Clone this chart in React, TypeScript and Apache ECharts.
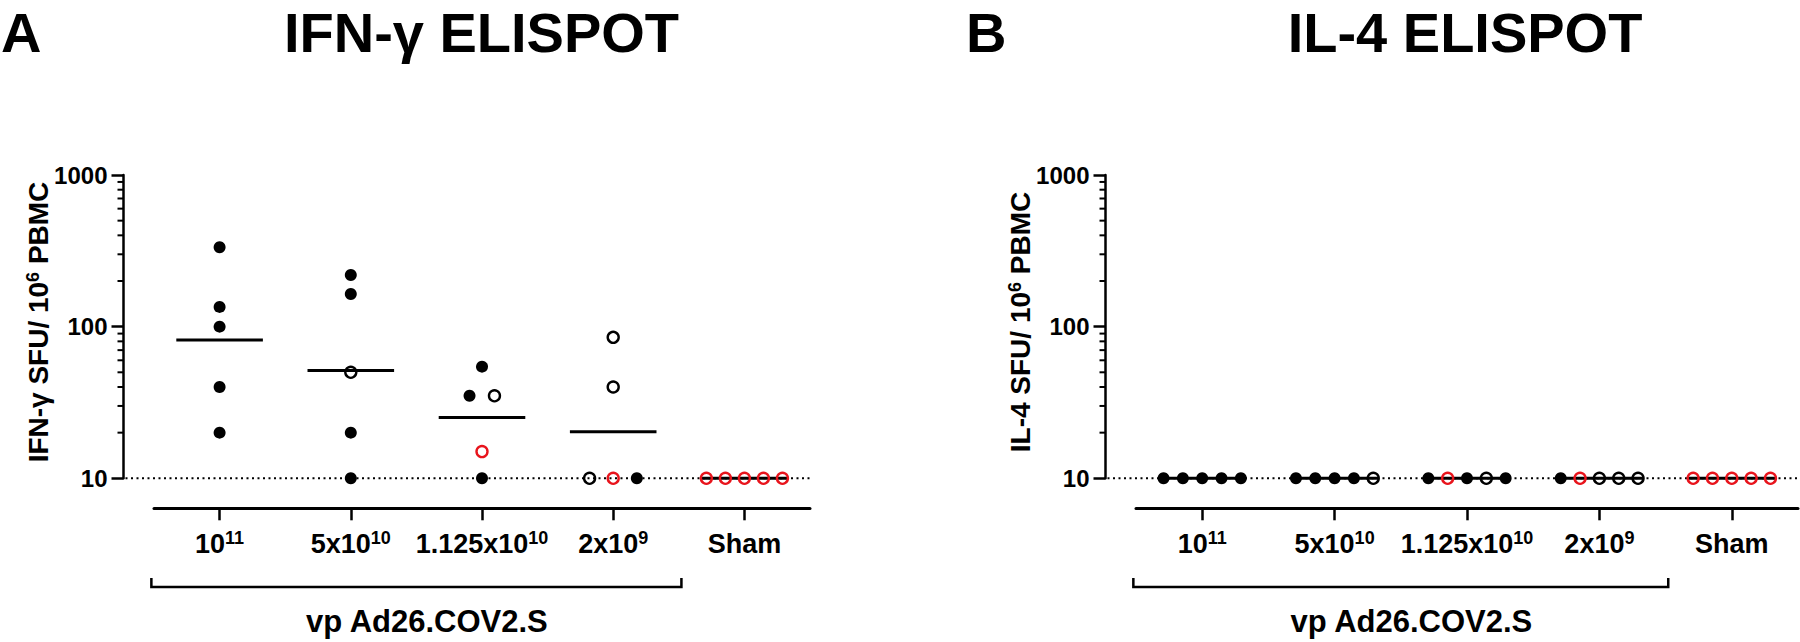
import React, { useEffect, useRef } from "react";
import * as echarts from "echarts";

// ---------------- data ----------------
const categories = ["10{s|11}", "5x10{s|10}", "1.125x10{s|10}", "2x10{s|9}", "Sham"];
const groupLabel = "vp Ad26.COV2.S";
const minorTickValues = [20, 30, 40, 50, 60, 70, 80, 90, 200, 300, 400, 500, 600, 700, 800, 900];

// IFN-gamma ELISPOT (SFU / 10^6 PBMC); f = filled black, o = open black, r = open red
const ifnValues = [
  [334, 135, 100, 40, 20],
  [219, 164, 50, 20, 10],
  [54.5, 35, 35, 15, 10],
  [85, 40, 10, 10, 10],
  [10, 10, 10, 10, 10],
];
const ifnKinds = [
  ["f", "f", "f", "f", "f"],
  ["f", "f", "o", "f", "f"],
  ["f", "f", "o", "r", "f"],
  ["o", "o", "o", "r", "f"],
  ["r", "r", "r", "r", "r"],
];

// IL-4 ELISPOT
const il4Values = [
  [10, 10, 10, 10, 10],
  [10, 10, 10, 10, 10],
  [10, 10, 10, 10, 10],
  [10, 10, 10, 10, 10],
  [10, 10, 10, 10, 10],
];
const il4Kinds = [
  ["f", "f", "f", "f", "f"],
  ["f", "f", "f", "f", "o"],
  ["f", "r", "f", "o", "f"],
  ["f", "r", "o", "o", "o"],
  ["r", "r", "r", "r", "r"],
];

// horizontal spread of tied values (category units)
const tieSpacingA = [0.18, 0.18, 0.19, 0.18, 0.145];
const tieSpacingB = [0.146, 0.146, 0.146, 0.146, 0.146];

// ---------------- style / layout ----------------
const FONT = '"Liberation Sans", Arial, Helvetica, sans-serif';
const RED = "#e8141c";
const TOP = 175;
const BOTTOM_Y = 478.3;
const H = 642;
const W = 1800;
const Y_OFFSET = 30.5;

const panels = [
  {
    values: ifnValues, kinds: ifnKinds, spacing: tieSpacingA,
    letter: "A", letterX: 1, title: "IFN-γ ELISPOT", titleX: 481.5,
    yName: "IFN-γ SFU/ 10{s|6} PBMC",
    left: 154, right: 810,
  },
  {
    values: il4Values, kinds: il4Kinds, spacing: tieSpacingB,
    letter: "B", letterX: 966, title: "IL-4 ELISPOT", titleX: 1465,
    yName: "IL-4 SFU/ 10{s|6} PBMC",
    left: 1136, right: 1798,
  },
];

function jitter(vals: number[], spacing: number): number[] {
  return vals.map((v, j) => {
    const ties: number[] = [];
    vals.forEach((w, k) => { if (w === v) ties.push(k); });
    const slot = ties.indexOf(j);
    return (slot - (ties.length - 1) / 2) * spacing;
  });
}

function geoMean(vals: number[]): number {
  return Math.exp(vals.reduce((s, v) => s + Math.log(v), 0) / vals.length);
}

export default function App() {
  const ref = useRef<HTMLDivElement>(null);

  useEffect(() => {
    const el = ref.current!;
    const chart = echarts.init(el, null, { renderer: "svg" });

    const grid: any[] = [];
    const xAxis: any[] = [];
    const yAxis: any[] = [];
    const series: any[] = [];

    panels.forEach((p, pi) => {
      grid.push({
        left: p.left, width: p.right - p.left, top: TOP, height: BOTTOM_Y - TOP,
        containLabel: false, outerBoundsMode: "none",
      });
      xAxis.push({
        type: "category", gridIndex: pi, data: categories, position: "bottom", offset: 30,
        boundaryGap: true,
        axisLine: { show: true, onZero: false, lineStyle: { color: "#000", width: 3 } },
        axisTick: { show: true, alignWithLabel: true, length: 12, lineStyle: { color: "#000", width: 2.5 } },
        axisLabel: {
          interval: 0, margin: 21, color: "#000", fontSize: 27, fontWeight: "bold", fontFamily: FONT, lineHeight: 30,
          rich: { s: { fontSize: 18, fontWeight: "bold", fontFamily: FONT, lineHeight: 12, verticalAlign: "top", color: "#000" } },
        },
        splitLine: { show: false },
      });
      xAxis.push({ type: "value", gridIndex: pi, min: -0.5, max: 4.5, show: false });
      yAxis.push({
        type: "log", logBase: 10, gridIndex: pi, min: 10, max: 1000, position: "left", offset: Y_OFFSET,
        axisLine: { show: true, onZero: false, lineStyle: { color: "#000", width: 2.5 } },
        axisTick: { show: true, length: 12, lineStyle: { color: "#000", width: 2.5 } },
        axisLabel: {
          color: "#000", fontSize: 24, fontWeight: "bold", fontFamily: FONT, margin: 16,
          formatter: (v: number) => String(Math.round(v)),
        },
        splitLine: { show: false },
        minorTick: { show: false },
      });

      const xi = pi * 2 + 1;
      // group mean lines (geometric mean)
      series.push({
        type: "custom", xAxisIndex: xi, yAxisIndex: pi, z: 3, silent: true, clip: false,
        data: p.values.map((vals, g) => [g, geoMean(vals)]),
        renderItem: (params: any, api: any) => {
          const c = api.value(0);
          const m = api.value(1);
          const a = api.coord([c - 0.33, m]);
          const b = api.coord([c + 0.33, m]);
          return {
            type: "line",
            shape: { x1: a[0], y1: a[1], x2: b[0], y2: b[1] },
            style: { stroke: "#000", lineWidth: 3 },
          };
        },
      });

      const byKind: Record<string, number[][]> = { f: [], o: [], r: [] };
      p.values.forEach((vals, g) => {
        const off = jitter(vals, p.spacing[g]);
        vals.forEach((v, j) => byKind[p.kinds[g][j]].push([g + off[j], v]));
      });
      series.push({
        type: "scatter", xAxisIndex: xi, yAxisIndex: pi, z: 4, clip: false, silent: true,
        symbol: "circle", symbolSize: 12, data: byKind.f,
        itemStyle: { color: "#000", opacity: 1 },
      });
      series.push({
        type: "scatter", xAxisIndex: xi, yAxisIndex: pi, z: 4, clip: false, silent: true,
        symbol: "circle", symbolSize: 11, data: byKind.o,
        itemStyle: { color: "rgba(255,255,255,0)", borderColor: "#000", borderWidth: 2.4, opacity: 1 },
      });
      series.push({
        type: "scatter", xAxisIndex: xi, yAxisIndex: pi, z: 4, clip: false, silent: true,
        symbol: "circle", symbolSize: 11, data: byKind.r,
        itemStyle: { color: "rgba(255,255,255,0)", borderColor: RED, borderWidth: 2.4, opacity: 1 },
      });
    });

    chart.setOption({
      animation: false,
      backgroundColor: "#fff",
      grid, xAxis, yAxis, series,
    });

    const graphic: any[] = [];
    panels.forEach((p, pi) => {
      const xi = pi * 2 + 1;
      const axisX = p.left - Y_OFFSET;
      const toY = (v: number) => chart.convertToPixel({ yAxisIndex: pi }, v) as number;
      const toX = (v: number) => chart.convertToPixel({ xAxisIndex: xi }, v) as number;

      // panel letter and title
      graphic.push({
        type: "text", x: p.letterX, y: 32, z: 5,
        style: {
          text: p.letter, fontSize: 56, fontWeight: "bold", fontFamily: FONT,
          fill: "#000", align: "left", verticalAlign: "middle",
        },
      });
      graphic.push({
        type: "text", x: p.titleX, y: 32, z: 5,
        style: {
          text: p.title, fontSize: 56, fontWeight: "bold", fontFamily: FONT,
          fill: "#000", align: "center", verticalAlign: "middle",
        },
      });
      // y axis name
      graphic.push({
        type: "text", x: axisX - 85, y: 322, rotation: Math.PI / 2, z: 5,
        style: {
          text: p.yName, fontSize: 28, fontWeight: "bold", fontFamily: FONT, fill: "#000", lineHeight: 30,
          align: "center", verticalAlign: "middle",
          rich: { s: { fontSize: 18, fontWeight: "bold", fontFamily: FONT, lineHeight: 12, verticalAlign: "top", fill: "#000" } },
        },
      });
      // minor ticks on log axis
      minorTickValues.forEach((v) => {
        const y = toY(v);
        graphic.push({
          type: "line", z: 5, silent: true,
          shape: { x1: axisX - 6, y1: y, x2: axisX, y2: y },
          style: { stroke: "#000", lineWidth: 2 },
        });
      });
      // dotted detection-limit line
      const y10 = toY(10);
      graphic.push({
        type: "line", z: 1, silent: true,
        shape: { x1: axisX + 2, y1: y10, x2: p.right, y2: y10 },
        style: { stroke: "#000", lineWidth: 2, lineDash: [2, 3.5] },
      });
      // bracket
      const bx1 = toX(-0.52);
      const bx2 = toX(3.52);
      const by = 587;
      graphic.push({
        type: "polyline", z: 5, silent: true,
        shape: { points: [[bx1, by - 9], [bx1, by], [bx2, by], [bx2, by - 9]] },
        style: { stroke: "#000", lineWidth: 2.5, fill: "none" },
      });
      graphic.push({
        type: "text", x: toX(1.58), y: 621, z: 5,
        style: {
          text: groupLabel, fontSize: 31, fontWeight: "bold", fontFamily: FONT,
          fill: "#000", align: "center", verticalAlign: "middle",
        },
      });
    });

    chart.setOption({ graphic });

    return () => chart.dispose();
  }, []);

  return (
    <div
      ref={ref}
      style={{ position: "fixed", left: 0, top: 0, width: W, height: H, background: "#fff" }}
    />
  );
}
